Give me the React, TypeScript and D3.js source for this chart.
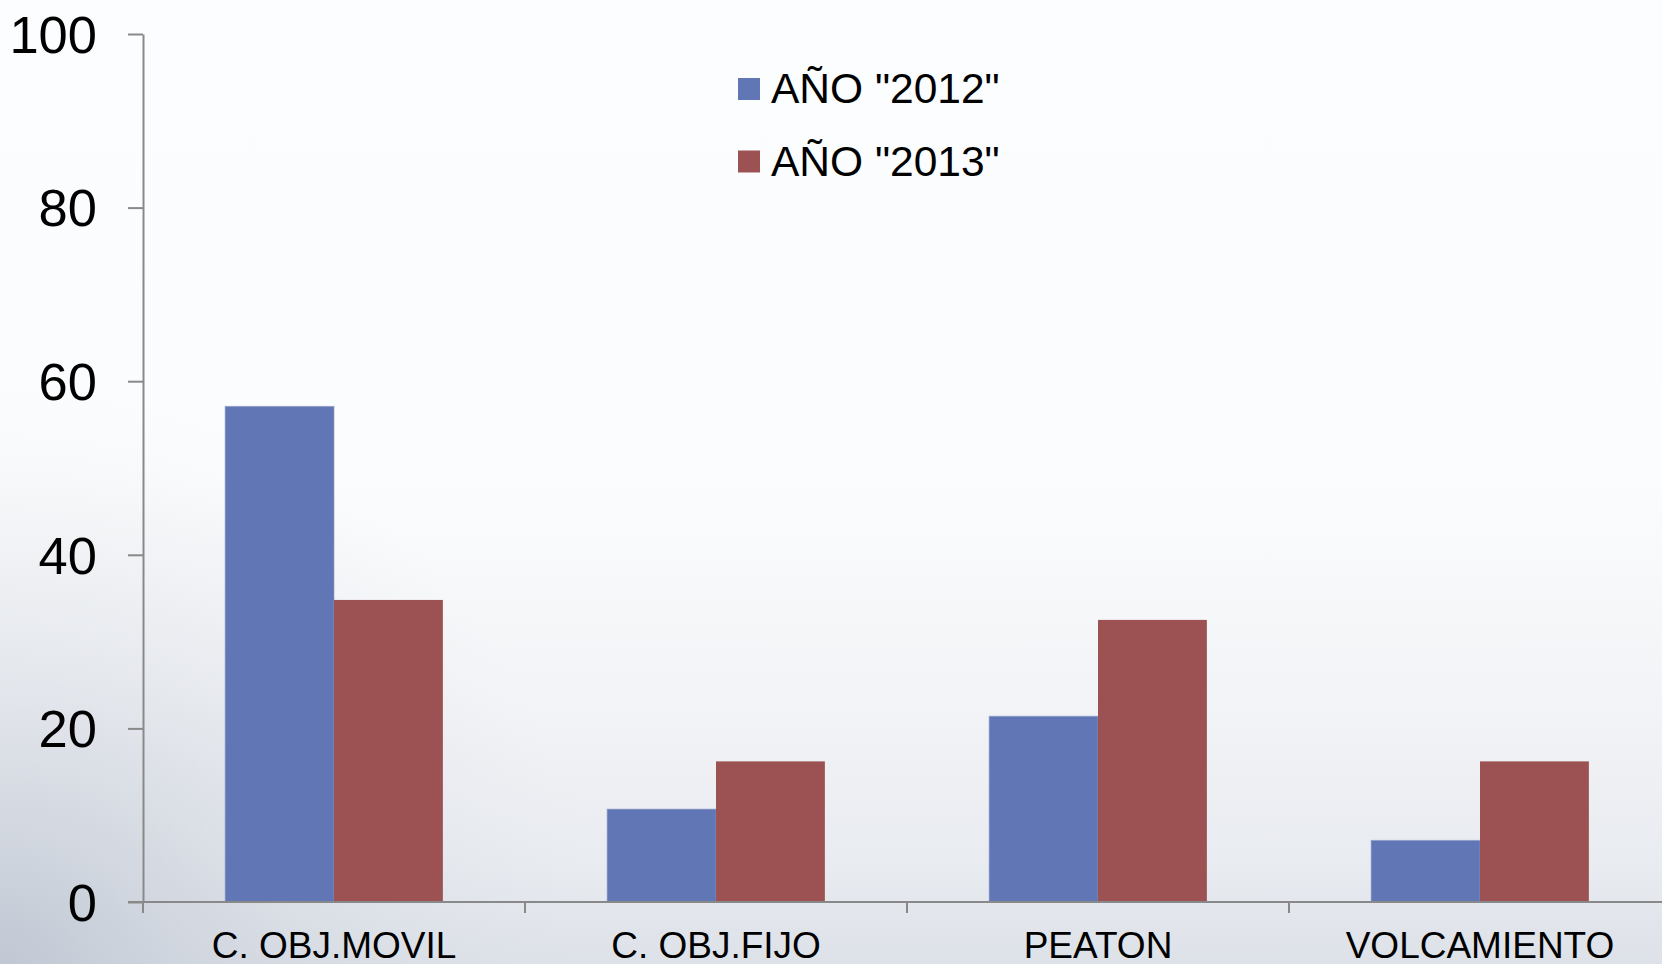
import React, { useEffect, useRef } from 'react';
import * as d3 from 'd3';

// data
const categories = ['C. OBJ.MOVIL', 'C. OBJ.FIJO', 'PEATON', 'VOLCAMIENTO'];
const seriesNames = ['AÑO "2012"', 'AÑO "2013"'];
const values2012 = [57.1, 10.7, 21.4, 7.1];
const values2013 = [34.8, 16.2, 32.5, 16.2];
const yTicks = [0, 20, 40, 60, 80, 100];
const colors = ['#6176b4', '#9c5252'];

const W = 1662;
const H = 964;
const FONT = '"Liberation Sans", Arial, sans-serif';

export default function App() {
  const axisRef = useRef<SVGGElement>(null);

  const left = 143;
  const step = 382;
  const zero = 902;
  const top = 34;

  const x = d3.scaleBand<string>().domain(categories).range([left, left + step * categories.length]).padding(0);
  const x1 = d3.scaleBand<string>().domain(seriesNames).range([x.bandwidth() * 0.215, x.bandwidth() * 0.785]).padding(0);
  const y = d3.scaleLinear().domain([0, 100]).range([zero, top]);

  const rows = categories.map((c, i) => ({ cat: c, vals: [values2012[i], values2013[i]] }));

  useEffect(() => {
    const g = d3.select(axisRef.current);
    g.selectAll('*').remove();

    // y axis
    const ya = g.append('g').attr('transform', `translate(${left},0)`)
      .call(d3.axisLeft(y).tickValues(yTicks).tickSize(15).tickSizeOuter(0).tickPadding(31));
    ya.selectAll('path, line').attr('stroke', '#898989').attr('stroke-width', 2);
    ya.selectAll('text').attr('font-size', 52.5).attr('font-family', FONT).attr('fill', '#000').attr('dy', '0.35em');

    // x axis labels (centred), ticks on the category boundaries
    const xa = g.append('g').attr('transform', `translate(0,${zero})`)
      .call(d3.axisBottom(x).tickSize(0).tickPadding(30));
    xa.select('.domain').remove();
    xa.selectAll('text').attr('font-size', 37).attr('font-family', FONT).attr('fill', '#000');

    g.append('line')
      .attr('x1', left - 15).attr('x2', W + 20)
      .attr('y1', zero).attr('y2', zero)
      .attr('stroke', '#898989').attr('stroke-width', 2);

    const bounds = d3.range(categories.length + 1).map(i => x.range()[0] + i * x.step());
    g.selectAll('.bound').data(bounds).enter().append('line')
      .attr('class', 'bound')
      .attr('x1', d => d).attr('x2', d => d)
      .attr('y1', zero).attr('y2', zero + 11)
      .attr('stroke', '#898989').attr('stroke-width', 2);
  }, []);

  return (
    <svg width={W} height={H} style={{ position: 'fixed', left: 0, top: 0, display: 'block' }}>
      <defs>
        <linearGradient id="bg" x1="0" y1="0" x2="0" y2="1">
          <stop offset="0" stopColor="#fcfdfe" />
          <stop offset="0.5" stopColor="#fbfcfd" />
          <stop offset="0.72" stopColor="#f3f4f7" />
          <stop offset="0.9" stopColor="#e8ebf0" />
          <stop offset="1" stopColor="#dde1e8" />
        </linearGradient>
        <radialGradient id="corner" cx="0" cy="1" r="0.6" gradientTransform="scale(0.6,1)">
          <stop offset="0" stopColor="#b9c1ce" stopOpacity="0.8" />
          <stop offset="0.5" stopColor="#cdd3dc" stopOpacity="0.4" />
          <stop offset="1" stopColor="#dde1e8" stopOpacity="0" />
        </radialGradient>
      </defs>
      <rect x={0} y={0} width={W} height={H} fill="url(#bg)" />
      <rect x={0} y={0} width={W} height={H} fill="url(#corner)" />

      {rows.map(r => (
        <g key={r.cat} transform={`translate(${x(r.cat)},0)`}>
          {r.vals.map((v, j) => (
            <rect
              key={j}
              x={x1(seriesNames[j])}
              y={y(v)}
              width={x1.bandwidth()}
              height={y(0) - y(v)}
              fill={colors[j]}
              stroke="#8f9dc8"
              strokeOpacity={j === 0 ? 0.6 : 0}
              strokeWidth={1}
            />
          ))}
        </g>
      ))}

      <g ref={axisRef} />

      {seriesNames.map((s, i) => (
        <g key={s} transform={`translate(738,${78 + i * 72.5})`}>
          <rect x={0} y={0} width={22} height={22} fill={colors[i]} />
          <text x={33} y={25} fontSize={42.5} fontFamily={FONT} fill="#000">{s}</text>
        </g>
      ))}
    </svg>
  );
}
